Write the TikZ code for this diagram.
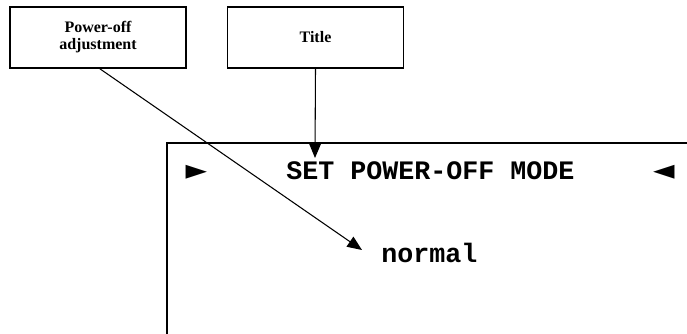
\documentclass[tikz,border=0pt]{standalone}
\usepackage{fontspec}
\setmainfont{Liberation Serif}
\newfontfamily\monob{Liberation Mono}[BoldFont=* Bold]
\newfontfamily\symf{DejaVu Sans}
\usetikzlibrary{arrows.meta}
\begin{document}
\begin{tikzpicture}[x=0.75pt,y=-0.75pt,
  callout/.style={draw,line width=1.3pt,minimum width=132pt,minimum height=45.75pt,inner sep=0pt,align=center,font=\bfseries\fontsize{12}{12.75}\selectfont},
  lcd/.style={font=\monob\bfseries\fontsize{20}{22}\selectfont,inner sep=0pt},
  pointer/.style={line width=0.8pt,-{Triangle[length=11pt,width=9pt]}},
  sym/.style={font=\symf\fontsize{21}{22}\selectfont,inner sep=0pt}]
\useasboundingbox (0,0) rectangle (687,333);
\begin{scope}
\clip (0,0) rectangle (687,333);
\node[callout] (pwr) at (98,37.5) {Power-off\\adjustment};
\node[callout] (ttl) at (315.5,37.5) {Title};
\draw[line width=1.3pt] (690,143) -- (167,143) -- (167,340);
\node[lcd,anchor=base] (title) at (430.5,179) {SET POWER-OFF MODE};
\node[lcd,anchor=base] (val) at (429.5,262) {normal};
\node[sym] (la) at (196.5,172) {►};
\node[sym] (ra) at (664,172) {◄};
\coordinate (tip1) at (362,250);
\coordinate (tip2) at (315,158);
\draw[pointer] (pwr.south) ++(2,0) -- (tip1);
\draw[pointer] (ttl.south) -- (tip2);
\end{scope}
\end{tikzpicture}
\end{document}
